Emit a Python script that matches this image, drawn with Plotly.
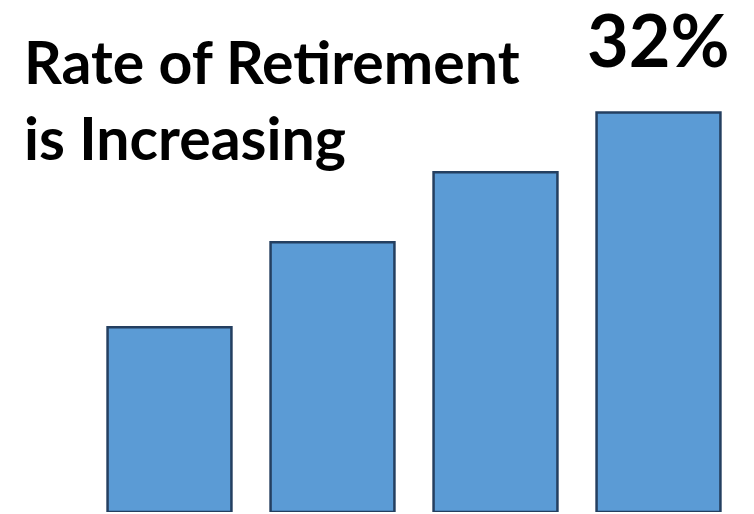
import plotly.graph_objects as go

# Retirement rate by period (percent)
periods = ["P1", "P2", "P3", "P4"]
rates = [14.8, 21.6, 27.2, 32]
title_lines = ["Rate of Retirement", "is Increasing"]
peak_label = "32%"

FONT = "Lato, 'Open Sans', sans-serif"

fig = go.Figure(
    go.Bar(
        x=periods,
        y=rates,
        marker=dict(color="#5b9bd5", line=dict(color="#243f60", width=2.5)),
        hoverinfo="skip",
    )
)

# Headline text, one annotation per line
for i, line in enumerate(title_lines):
    fig.add_annotation(
        text=f"<b>{line}</b>",
        xref="paper", yref="paper",
        x=(22 - 88) / 652, y=(512 - 61 - i * 76) / 512,
        xanchor="left", yanchor="middle",
        showarrow=False,
        font=dict(family=FONT, size=59, color="black"),
    )

# Value label above the tallest bar
fig.add_annotation(
    text=f"<b>{peak_label}</b>",
    x=periods[-1], y=rates[-1],
    xref="x", yref="y",
    xanchor="center", yanchor="middle",
    yshift=73,
    height=64, valign="middle",
    showarrow=False,
    font=dict(family=FONT, size=72, color="black"),
)

fig.update_layout(
    width=754, height=514,
    margin=dict(l=88, r=14, t=0, b=2),
    paper_bgcolor="white", plot_bgcolor="white",
    bargap=0.24,
    showlegend=False,
    xaxis=dict(visible=False),
    yaxis=dict(visible=False, range=[0, 41]),
)

fig.write_html("out.html")
